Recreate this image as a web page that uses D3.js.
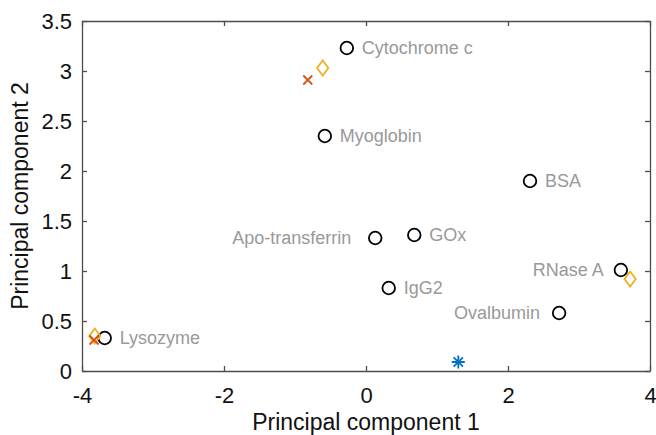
<!DOCTYPE html>
<html>
<head>
<meta charset="utf-8">
<script src="https://cdn.jsdelivr.net/npm/d3@7"></script>
<style>
	body { margin: 0; background: #fff; }
	text { font-family: "Liberation Sans", Arial, sans-serif; }
</style>
</head>
<body>
<div id="root"></div>
<script>
// proteins (black circles)
const proteins = ["Cytochrome c", "Myoglobin", "BSA", "Apo-transferrin", "GOx", "IgG2", "RNase A", "Ovalbumin", "Lysozyme"];
const proteinPC1 = [-0.27, -0.58, 2.31, 0.13, 0.68, 0.32, 3.59, 2.72, -3.68];
const proteinPC2 = [3.23, 2.35, 1.90, 1.33, 1.36, 0.83, 1.01, 0.58, 0.33];
const labelDx = [15, 15, 15, -24, 15, 15, -17, -19, 15];

// other series
const diamondPC1 = [-0.61, 3.72, -3.82];
const diamondPC2 = [3.03, 0.92, 0.35];
const crossPC1 = [-0.82, -3.83];
const crossPC2 = [2.91, 0.31];
const starPC1 = [1.30];
const starPC2 = [0.09];

const xTicks = [-4, -2, 0, 2, 4];
const yTicks = [0, 0.5, 1, 1.5, 2, 2.5, 3, 3.5];

function draw() {
	const width = 656, height = 435;
	const margin = {top: 21, right: 6, bottom: 64, left: 82};
	const w = width - margin.left - margin.right;
	const h = height - margin.top - margin.bottom;

	const svg = d3.select("#root").append("svg")
		.attr("width", width)
		.attr("height", height);

	const x = d3.scaleLinear().domain([-4, 4]).range([0, w]);
	const y = d3.scaleLinear().domain([0, 3.5]).range([h, 0]);

	const g = svg.append("g").attr("transform", `translate(${margin.left},${margin.top})`);

	// box axes with inward ticks
	const axisColor = "#4d4d4d";
	const fmt = d => String(d);
	const bottom = g.append("g").attr("transform", `translate(0,${h})`)
		.call(d3.axisBottom(x).tickValues(xTicks).tickSizeInner(-5).tickSizeOuter(0).tickPadding(16).tickFormat(fmt));
	const left = g.append("g")
		.call(d3.axisLeft(y).tickValues(yTicks).tickSizeInner(-5).tickSizeOuter(0).tickPadding(10).tickFormat(fmt));
	const top = g.append("g")
		.call(d3.axisTop(x).tickValues(xTicks).tickSizeInner(-5).tickSizeOuter(0).tickFormat(""));
	const right = g.append("g").attr("transform", `translate(${w},0)`)
		.call(d3.axisRight(y).tickValues(yTicks).tickSizeInner(-5).tickSizeOuter(0).tickFormat(""));

	[bottom, left, top, right].forEach(a => {
		a.select(".domain").attr("stroke", axisColor).attr("stroke-width", 1.3);
		a.selectAll(".tick line").attr("stroke", axisColor).attr("stroke-width", 1.3);
		a.selectAll(".tick text").attr("fill", "#111").style("font-size", "22px");
	});

	// axis labels
	svg.append("text")
		.attr("x", margin.left + w / 2)
		.attr("y", 430)
		.attr("text-anchor", "middle")
		.style("font-size", "23px")
		.attr("fill", "#111")
		.text("Principal component 1");
	svg.append("text")
		.attr("transform", `translate(28,${margin.top + h / 2}) rotate(-90)`)
		.attr("text-anchor", "middle")
		.style("font-size", "23px")
		.attr("fill", "#111")
		.text("Principal component 2");

	// protein circles + labels
	proteins.forEach((name, i) => {
		const cx = x(proteinPC1[i]), cy = y(proteinPC2[i]);
		g.append("circle")
			.attr("cx", cx).attr("cy", cy).attr("r", 6.3)
			.attr("fill", "none").attr("stroke", "#000").attr("stroke-width", 1.8);
		g.append("text")
			.attr("x", cx + labelDx[i])
			.attr("y", cy + 6)
			.attr("text-anchor", labelDx[i] > 0 ? "start" : "end")
			.attr("fill", "#999")
			.style("font-size", "18px")
			.text(name);
	});

	// orange diamonds
	const dsz = 7.5;
	diamondPC1.forEach((v, i) => {
		const cx = x(v), cy = y(diamondPC2[i]);
		g.append("path")
			.attr("d", `M${cx},${cy - dsz}L${cx + dsz * 0.75},${cy}L${cx},${cy + dsz}L${cx - dsz * 0.75},${cy}Z`)
			.attr("fill", "none").attr("stroke", "#EDB120").attr("stroke-width", 1.8);
	});

	// red crosses
	const c = 4.5;
	crossPC1.forEach((v, i) => {
		const cx = x(v), cy = y(crossPC2[i]);
		g.append("path")
			.attr("d", `M${cx - c},${cy - c}L${cx + c},${cy + c}M${cx - c},${cy + c}L${cx + c},${cy - c}`)
			.attr("stroke", "#D95319").attr("stroke-width", 1.8);
	});

	// blue asterisk
	const s = 6.5;
	starPC1.forEach((v, i) => {
		const cx = x(v), cy = y(starPC2[i]);
		const d = s * 0.72;
		g.append("path")
			.attr("d", `M${cx},${cy - s}L${cx},${cy + s}M${cx - d},${cy - d}L${cx + d},${cy + d}M${cx - d},${cy + d}L${cx + d},${cy - d}M${cx - s},${cy}L${cx + s},${cy}`)
			.attr("stroke", "#0072BD").attr("stroke-width", 1.8);
	});
}

draw();
</script>
</body>
</html>
